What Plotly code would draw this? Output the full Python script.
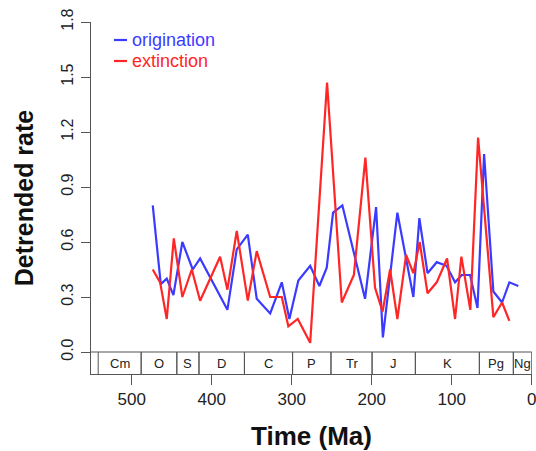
import plotly.graph_objects as go

# ---------------- data ----------------
orig_time = [473.8, 463.8, 456.3, 448.0, 436.8, 423.8, 414.6, 380.5, 368.8, 355.0,
             343.8, 327.0, 312.5, 303.0, 291.8, 277.0, 265.5, 256.3, 248.4, 236.8,
             208.4, 194.6, 186.1, 168.0, 148.0, 140.5, 130.3, 118.8, 106.5, 95.9,
             87.5, 77.1, 67.8, 59.6, 48.0, 37.1, 28.0, 16.8]
orig_rate = [0.80, 0.37, 0.40, 0.31, 0.60, 0.45, 0.51, 0.23, 0.56, 0.64,
             0.29, 0.21, 0.38, 0.18, 0.39, 0.47, 0.36, 0.46, 0.76, 0.80,
             0.29, 0.79, 0.08, 0.76, 0.30, 0.73, 0.43, 0.49, 0.47, 0.38,
             0.42, 0.42, 0.24, 1.08, 0.33, 0.27, 0.38, 0.36]

ext_time = [473.8, 464.6, 456.3, 447.5, 436.8, 425.0, 414.6, 389.6, 380.5, 368.8,
            355.0, 343.8, 327.0, 312.5, 304.3, 292.5, 277.0, 255.9, 237.5, 222.4,
            208.0, 195.9, 186.5, 177.1, 168.0, 157.1, 148.0, 140.1, 130.3, 118.8,
            105.9, 95.9, 88.0, 76.8, 67.1, 48.0, 37.1, 28.0]
ext_rate = [0.45, 0.38, 0.18, 0.62, 0.30, 0.45, 0.28, 0.52, 0.34, 0.66,
            0.28, 0.55, 0.30, 0.30, 0.14, 0.18, 0.05, 1.47, 0.27, 0.42,
            1.06, 0.35, 0.22, 0.45, 0.18, 0.53, 0.43, 0.60, 0.32, 0.38,
            0.51, 0.18, 0.52, 0.23, 1.17, 0.19, 0.27, 0.17]

period_names = ["Cm", "O", "S", "D", "C", "P", "Tr", "J", "K", "Pg", "Ng"]
period_start = [542.0, 488.3, 443.7, 416.0, 359.2, 299.0, 251.0, 199.6, 145.5, 65.5, 23.03]
period_end = [488.3, 443.7, 416.0, 359.2, 299.0, 251.0, 199.6, 145.5, 65.5, 23.03, 0.0]

x_ticks = [500, 400, 300, 200, 100, 0]
x_tick_text = ["500", "400", "300", "200", "100", "0"]
y_ticks = [0.0, 0.3, 0.6, 0.9, 1.2, 1.5, 1.8]
y_tick_text = ["0.0", "0.3", "0.6", "0.9", "1.2", "1.5", "1.8"]

# ---------------- style ----------------
W, H = 536, 451
ML, MR, MT, MB = 91, 4, 22, 77
X_RANGE = [551, -0.3]
Y_RANGE = [-0.12, 1.8]
BAND_BOTTOM = Y_RANGE[0]
BLUE = "#3b3bff"
RED = "#ff2626"
AXC = "#555555"
TXT = "#222222"
FONT = "Liberation Sans, Arial, Helvetica, sans-serif"


def px_to_paper_x(px):
    return (px - ML) / (W - ML - MR)


def px_to_paper_y(py):
    return (H - MB - py) / (H - MB - MT)


fig = go.Figure()
fig.add_trace(go.Scatter(x=orig_time, y=orig_rate, mode="lines", name="origination",
                         line=dict(color=BLUE, width=2.2), showlegend=False))
fig.add_trace(go.Scatter(x=ext_time, y=ext_rate, mode="lines", name="extinction",
                         line=dict(color=RED, width=2.2), showlegend=False))

shapes = []
# top line of the timescale band
shapes.append(dict(type="line", xref="x", yref="y", x0=X_RANGE[0], x1=0, y0=0, y1=0,
                   line=dict(color=AXC, width=1)))
annotations = []
for name, s, e in zip(period_names, period_start, period_end):
    shapes.append(dict(type="line", xref="x", yref="y", x0=s, x1=s, y0=BAND_BOTTOM, y1=0,
                       line=dict(color=AXC, width=1)))
    shapes.append(dict(type="line", xref="x", yref="y", x0=e, x1=e, y0=BAND_BOTTOM, y1=0,
                       line=dict(color=AXC, width=1)))
    annotations.append(dict(x=(s + e) / 2, y=BAND_BOTTOM / 2, xref="x", yref="y",
                            text=name, showarrow=False,
                            font=dict(size=13, color=TXT, family=FONT)))

# legend drawn manually (short line + coloured label)
for label, col, py in [("origination", BLUE, 40), ("extinction", RED, 61)]:
    shapes.append(dict(type="line", xref="paper", yref="paper",
                       x0=px_to_paper_x(114), x1=px_to_paper_x(127),
                       y0=px_to_paper_y(py), y1=px_to_paper_y(py),
                       line=dict(color=col, width=2.2)))
    annotations.append(dict(x=px_to_paper_x(130), y=px_to_paper_y(py), xref="paper", yref="paper",
                            xanchor="left", yanchor="middle", text=label, showarrow=False,
                            font=dict(size=18, color=col, family=FONT)))

fig.update_layout(
    width=W, height=H,
    margin=dict(l=ML, r=MR, t=MT, b=MB, pad=0),
    paper_bgcolor="white", plot_bgcolor="white",
    font=dict(family=FONT, color=TXT),
    shapes=shapes, annotations=annotations,
    showlegend=False,
)
fig.update_xaxes(range=X_RANGE, autorange=False, showgrid=False, zeroline=False,
                 showline=True, linecolor=AXC, linewidth=1,
                 ticks="outside", ticklen=10, tickcolor=AXC, tickwidth=1,
                 tickvals=x_ticks, ticktext=x_tick_text,
                 tickfont=dict(size=17, color=TXT),
                 ticklabeloverflow="allow",
                 title=dict(text="Time (Ma)", font=dict(size=26, weight="bold", color="#111111"),
                            standoff=18),
                 automargin=False)
fig.update_yaxes(range=Y_RANGE, autorange=False, showgrid=False, zeroline=False,
                 showline=True, linecolor=AXC, linewidth=1,
                 ticks="outside", ticklen=9, tickcolor=AXC, tickwidth=1,
                 tickvals=y_ticks, ticktext=y_tick_text, tickangle=-90,
                 tickfont=dict(size=16, color=TXT),
                 ticklabelstandoff=2,
                 title=dict(text="Detrended rate", font=dict(size=25, weight="bold", color="#111111"),
                            standoff=17),
                 automargin=False)

# remove the default page margin so the figure fills the window exactly
fig.write_html("out.html",
               config={"displayModeBar": False},
               post_script="document.body.style.margin='0';document.body.style.overflow='hidden';")
